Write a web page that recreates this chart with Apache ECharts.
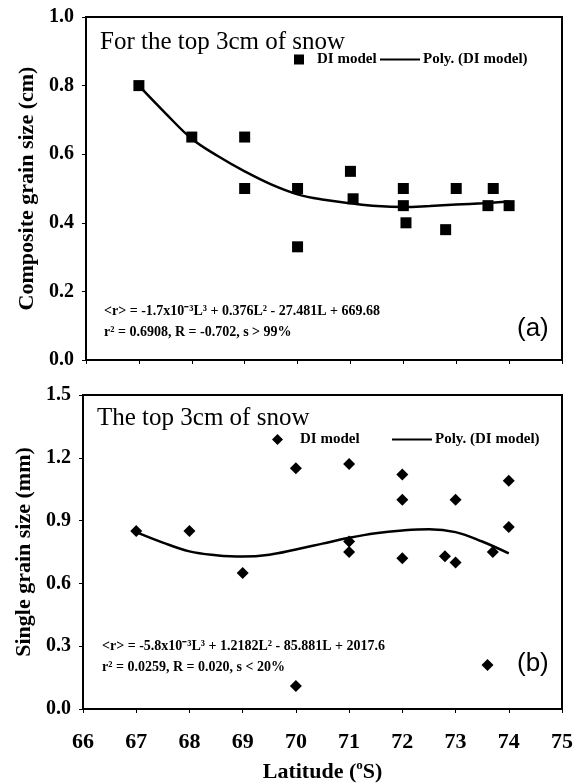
<!DOCTYPE html>
<html>
<head>
<meta charset="utf-8">
<script src="https://cdn.jsdelivr.net/npm/echarts@6/dist/echarts.min.js"></script>
<style>
  html, body { margin: 0; padding: 0; background: #fff; }
  #chart { width: 576px; height: 784px; }
</style>
</head>
<body>
<div id="chart"></div>
<script>
// ---- Data ----
const topLat   = [67.0, 68.0, 69.0, 69.0, 70.0, 70.0, 71.0, 71.05, 72.0, 72.0, 72.05, 72.8, 73.0, 73.6, 73.7, 74.0];
const topSize  = [0.80, 0.65, 0.65, 0.50, 0.50, 0.33, 0.55, 0.47, 0.50, 0.45, 0.40, 0.38, 0.50, 0.45, 0.50, 0.45];
const topFitLat  = [67, 67.5, 68, 68.5, 69, 69.5, 70, 70.5, 71, 71.5, 72, 72.5, 73, 73.5, 74];
const topFitSize = [0.80, 0.72, 0.645, 0.594, 0.55, 0.512, 0.483, 0.467, 0.457, 0.449, 0.446, 0.449, 0.453, 0.457, 0.462];

const botLat   = [67.0, 68.0, 69.0, 70.0, 70.0, 71.0, 71.0, 71.0, 72.0, 72.0, 72.0, 72.8, 73.0, 73.0, 73.6, 73.7, 74.0, 74.0];
const botSize  = [0.85, 0.85, 0.65, 1.15, 0.11, 1.17, 0.80, 0.75, 1.12, 1.00, 0.72, 0.73, 0.70, 1.00, 0.21, 0.75, 1.09, 0.87];
const botFitLat  = [67, 67.5, 68, 68.5, 69, 69.5, 70, 70.5, 71, 71.5, 72, 72.5, 73, 73.5, 74];
const botFitSize = [0.845, 0.795, 0.753, 0.735, 0.728, 0.737, 0.762, 0.79, 0.818, 0.84, 0.853, 0.859, 0.845, 0.80, 0.743];

const xTicks = [66, 67, 68, 69, 70, 71, 72, 73, 74, 75];
const yTicksTop = [0.0, 0.2, 0.4, 0.6, 0.8, 1.0];
const yTicksBot = [0.0, 0.3, 0.6, 0.9, 1.2, 1.5];

const seriesName = 'DI model';
const fitName = 'Poly. (DI model)';
const topTitle = 'For the top 3cm of snow';
const botTitle = 'The top 3cm of snow';
const topEq1 = '<r> = -1.7x10\u207B\u00B3L\u00B3 + 0.376L\u00B2 - 27.481L + 669.68';
const topEq2 = 'r\u00B2 = 0.6908, R = -0.702, s > 99%';
const botEq1 = '<r> = -5.8x10\u207B\u00B3L\u00B3 + 1.2182L\u00B2 - 85.881L + 2017.6';
const botEq2 = 'r\u00B2 = 0.0259, R = 0.020, s < 20%';

// ---- Build ----
const zip = (a, b) => a.map((v, i) => [v, b[i]]);
const SERIF = '"Liberation Serif", "Times New Roman", serif';

function xAxisCfg(gridIndex, showLabels) {
  return {
    type: 'value', gridIndex: gridIndex,
    min: xTicks[0], max: xTicks[xTicks.length - 1], interval: 1,
    axisLine: { show: true, onZero: false, lineStyle: { color: '#000', width: 2 } },
    axisTick: { show: true, inside: false, length: 4, lineStyle: { color: '#000', width: 1 } },
    splitLine: { show: false },
    axisLabel: {
      show: showLabels, color: '#000', fontFamily: SERIF, fontWeight: 'bold', fontSize: 22, margin: 22,
      formatter: v => String(v)
    },
    name: showLabels ? '{n|Latitude (}{s|o}{n|S)}' : '',
    nameLocation: 'middle', nameGap: 50,
    nameTextStyle: {
      rich: {
        n: { fontFamily: SERIF, fontWeight: 'bold', fontSize: 22, color: '#000', lineHeight: 24, verticalAlign: 'bottom' },
        s: { fontFamily: SERIF, fontWeight: 'bold', fontSize: 13, color: '#000', lineHeight: 24, verticalAlign: 'top', padding: [0, 0, 10, 0] }
      }
    }
  };
}
function yAxisCfg(gridIndex, ticks, name) {
  return {
    type: 'value', gridIndex: gridIndex,
    min: ticks[0], max: ticks[ticks.length - 1], interval: ticks[1] - ticks[0],
    axisLine: { show: true, onZero: false, lineStyle: { color: '#000', width: 2 } },
    axisTick: { show: true, inside: false, length: 4, lineStyle: { color: '#000', width: 1 } },
    splitLine: { show: false },
    axisLabel: {
      color: '#000', fontFamily: SERIF, fontWeight: 'bold', fontSize: 20, margin: 12,
      formatter: v => v.toFixed(1)
    },
    name: name, nameLocation: 'middle', nameGap: 46,
    nameTextStyle: { fontFamily: SERIF, fontWeight: 'bold', fontSize: 22, color: '#000' }
  };
}

const legendText = { fontFamily: SERIF, fontWeight: 'bold', fontSize: 15, color: '#000' };
const lineIcon = 'path://M0,0L40,0L40,2L0,2Z';

const option = {
  backgroundColor: '#fff',
  animation: false,
  title: [
    { text: topTitle, left: 100, top: 30, padding: 0,
      textStyle: { fontFamily: SERIF, fontWeight: 'normal', fontSize: 25, color: '#000' } },
    { text: botTitle, left: 97, top: 406, padding: 0,
      textStyle: { fontFamily: SERIF, fontWeight: 'normal', fontSize: 25, color: '#000' } }
  ],
  grid: [
    { left: 86, right: 14, top: 17, height: 343, show: true, borderColor: '#000', borderWidth: 2, backgroundColor: 'transparent' },
    { left: 83, right: 14, top: 395, height: 315, show: true, borderColor: '#000', borderWidth: 2, backgroundColor: 'transparent' }
  ],
  xAxis: [ xAxisCfg(0, false), xAxisCfg(1, true) ],
  yAxis: [
    yAxisCfg(0, yTicksTop, 'Composite grain size (cm)'),
    yAxisCfg(1, yTicksBot, 'Single grain size (mm)')
  ],
  legend: [
    { data: [{ name: seriesName, icon: 'rect' }], left: 294, top: 52, itemWidth: 10, itemHeight: 10,
      selectedMode: false, padding: 0, itemStyle: { opacity: 1 }, textStyle: Object.assign({ padding: [0, 0, 0, 8] }, legendText) },
    { data: [{ name: fitName, icon: lineIcon }], left: 380, top: 52, itemWidth: 44, itemHeight: 2,
      selectedMode: false, padding: 0, textStyle: Object.assign({ padding: [0, 0, 0, -4] }, legendText) },
    { data: [{ name: seriesName, icon: 'diamond' }], left: 272, top: 432, itemWidth: 11, itemHeight: 11,
      selectedMode: false, padding: 0, itemStyle: { opacity: 1 }, textStyle: Object.assign({ padding: [0, 0, 0, 12] }, legendText) },
    { data: [{ name: fitName, icon: lineIcon }], left: 392, top: 432, itemWidth: 44, itemHeight: 2,
      selectedMode: false, padding: 0, textStyle: Object.assign({ padding: [0, 0, 0, -4] }, legendText) }
  ],
  series: [
    { name: seriesName, type: 'scatter', xAxisIndex: 0, yAxisIndex: 0, symbol: 'rect', symbolSize: 11,
      itemStyle: { color: '#000', opacity: 1 }, data: zip(topLat, topSize), z: 3 },
    { name: fitName, type: 'line', xAxisIndex: 0, yAxisIndex: 0, symbol: 'none', smooth: 0.4,
      lineStyle: { color: '#000', width: 2.5 }, itemStyle: { color: '#000' }, data: zip(topFitLat, topFitSize), z: 2 },
    { name: seriesName, type: 'scatter', xAxisIndex: 1, yAxisIndex: 1, symbol: 'diamond', symbolSize: 12,
      itemStyle: { color: '#000', opacity: 1 }, data: zip(botLat, botSize), z: 3 },
    { name: fitName, type: 'line', xAxisIndex: 1, yAxisIndex: 1, symbol: 'none', smooth: 0.4,
      lineStyle: { color: '#000', width: 2.5 }, itemStyle: { color: '#000' }, data: zip(botFitLat, botFitSize), z: 2 }
  ],
  graphic: [
    { type: 'text', left: 104, top: 304, style: { text: topEq1, font: 'bold 14px ' + SERIF, fill: '#000' } },
    { type: 'text', left: 104, top: 325, style: { text: topEq2, font: 'bold 14px ' + SERIF, fill: '#000' } },
    { type: 'text', left: 517, top: 316, style: { text: '(a)', font: '26px "Liberation Sans", sans-serif', fill: '#000' } },
    { type: 'text', left: 102, top: 639, style: { text: botEq1, font: 'bold 14px ' + SERIF, fill: '#000' } },
    { type: 'text', left: 102, top: 660, style: { text: botEq2, font: 'bold 14px ' + SERIF, fill: '#000' } },
    { type: 'text', left: 517, top: 651, style: { text: '(b)', font: '26px "Liberation Sans", sans-serif', fill: '#000' } }
  ]
};

const chart = echarts.init(document.getElementById('chart'), null, { renderer: 'canvas' });
chart.setOption(option);
</script>
</body>
</html>
